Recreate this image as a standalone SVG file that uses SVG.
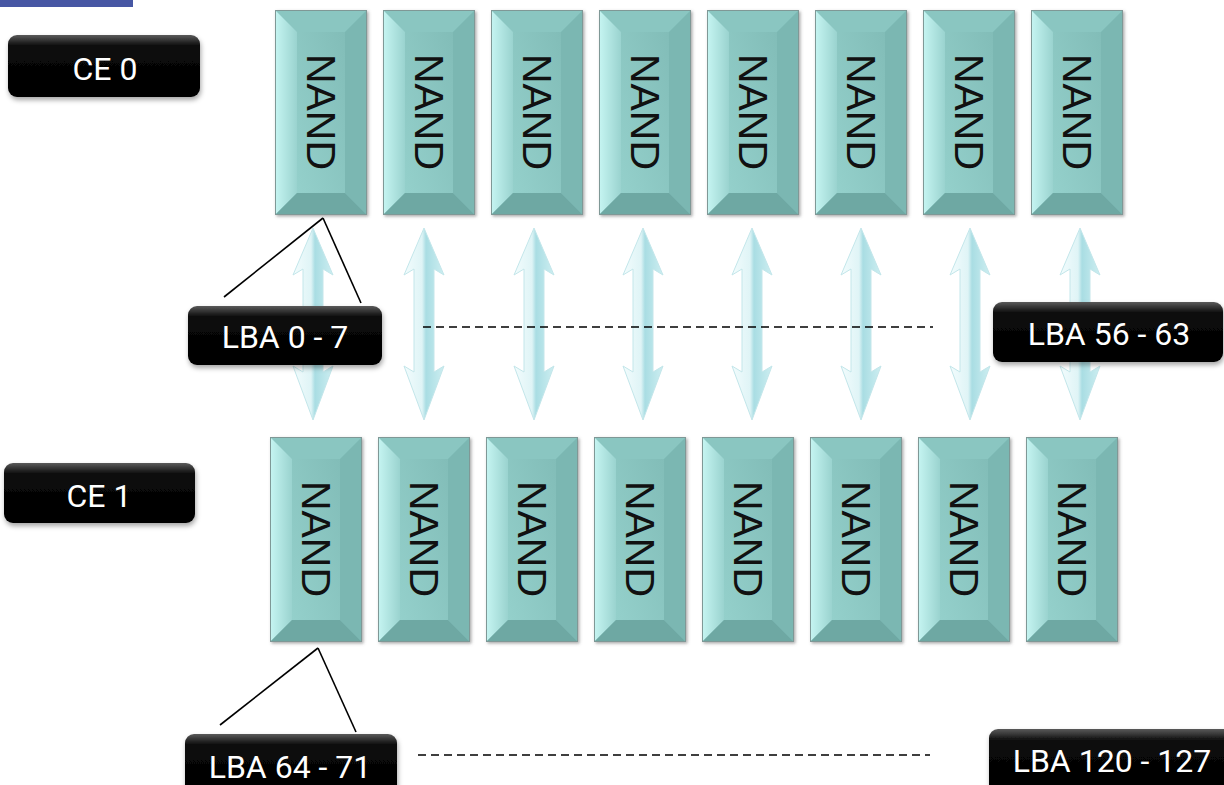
<svg xmlns="http://www.w3.org/2000/svg" xmlns:xlink="http://www.w3.org/1999/xlink" width="1224" height="785" viewBox="0 0 1224 785">
<style>
.lbl{fill:#ffffff;font-family:Roboto,"Liberation Sans",sans-serif;font-size:32px;text-anchor:middle}
.nandtxt{fill:#111;font-family:"Liberation Sans",Arial,sans-serif;font-size:41px;text-anchor:middle;dominant-baseline:central}
.conn{stroke:#000;stroke-width:1.6;fill:none}
.dash{stroke:#000;stroke-width:1.6;fill:none;stroke-dasharray:8 5}
.arrow{fill:url(#arrowGrad);stroke:#c3e6ea;stroke-width:1}
</style>
<defs>
<linearGradient id="leftBevel" x1="0" y1="0" x2="1" y2="0">
<stop offset="0" stop-color="#c6f5f2"/><stop offset="1" stop-color="#9ad3cf"/>
</linearGradient>
<linearGradient id="faceGrad" x1="0" y1="1" x2="1" y2="0">
<stop offset="0" stop-color="#94d0cb"/><stop offset="1" stop-color="#82bdb8"/>
</linearGradient>
<linearGradient id="arrowGrad" x1="0" y1="0" x2="1" y2="0">
<stop offset="0" stop-color="#f2fcfd"/><stop offset="0.45" stop-color="#dff4f6"/><stop offset="0.55" stop-color="#a9dde3"/><stop offset="1" stop-color="#cdeef1"/>
</linearGradient>
<linearGradient id="blackGrad" x1="0" y1="0" x2="0" y2="1">
<stop offset="0" stop-color="#5a5a5a"/><stop offset="0.18" stop-color="#0a0a0a"/><stop offset="1" stop-color="#000"/>
</linearGradient>
<filter id="shadow" x="-10%" y="-10%" width="130%" height="140%">
<feDropShadow dx="1" dy="3" stdDeviation="2.5" flood-color="#000" flood-opacity="0.35"/>
</filter>
<filter id="nshadow" x="-10%" y="-10%" width="130%" height="120%">
<feDropShadow dx="1.5" dy="1.5" stdDeviation="1.5" flood-color="#555" flood-opacity="0.5"/>
</filter>
<g id="nandShape">
<rect x="0" y="0" width="92" height="205" fill="#88c3be" filter="url(#nshadow)"/>
<polygon points="0,0 92,0 70,22 22,22" fill="#8ac6c1"/>
<polygon points="0,0 22,22 22,183 0,205" fill="url(#leftBevel)"/>
<polygon points="92,0 92,205 70,183 70,22" fill="#7bb7b2"/>
<polygon points="0,205 22,183 70,183 92,205" fill="#6ea8a3"/>
<rect x="22" y="22" width="48" height="161" fill="url(#faceGrad)"/>
<rect x="0.5" y="0.5" width="91" height="204" fill="none" stroke="#7f9896" stroke-width="1"/>
</g>
<path id="dblArrow" d="M0,-0 L20,47 L10,41 L10,144 L20,138 L0,192 L-20,138 L-10,144 L-10,41 L-20,47 Z"/>
</defs>

<rect x="0" y="0" width="133" height="7" fill="#4757a4"/>

<g id="arrows">
<use xlink:href="#dblArrow" href="#dblArrow" class="arrow" x="313" y="228"/>
<use xlink:href="#dblArrow" href="#dblArrow" class="arrow" x="424" y="228"/>
<use xlink:href="#dblArrow" href="#dblArrow" class="arrow" x="534" y="228"/>
<use xlink:href="#dblArrow" href="#dblArrow" class="arrow" x="643" y="228"/>
<use xlink:href="#dblArrow" href="#dblArrow" class="arrow" x="752" y="228"/>
<use xlink:href="#dblArrow" href="#dblArrow" class="arrow" x="861" y="228"/>
<use xlink:href="#dblArrow" href="#dblArrow" class="arrow" x="970" y="228"/>
<use xlink:href="#dblArrow" href="#dblArrow" class="arrow" x="1080" y="228"/>
</g>

<g id="nand-top">
<g id="nand-t1" transform="translate(275,10)"><use xlink:href="#nandShape" href="#nandShape"/><text class="nandtxt" transform="translate(46,102) rotate(90)">NAND</text></g>
<g id="nand-t2" transform="translate(383,10)"><use xlink:href="#nandShape" href="#nandShape"/><text class="nandtxt" transform="translate(46,102) rotate(90)">NAND</text></g>
<g id="nand-t3" transform="translate(491,10)"><use xlink:href="#nandShape" href="#nandShape"/><text class="nandtxt" transform="translate(46,102) rotate(90)">NAND</text></g>
<g id="nand-t4" transform="translate(599,10)"><use xlink:href="#nandShape" href="#nandShape"/><text class="nandtxt" transform="translate(46,102) rotate(90)">NAND</text></g>
<g id="nand-t5" transform="translate(707,10)"><use xlink:href="#nandShape" href="#nandShape"/><text class="nandtxt" transform="translate(46,102) rotate(90)">NAND</text></g>
<g id="nand-t6" transform="translate(815,10)"><use xlink:href="#nandShape" href="#nandShape"/><text class="nandtxt" transform="translate(46,102) rotate(90)">NAND</text></g>
<g id="nand-t7" transform="translate(923,10)"><use xlink:href="#nandShape" href="#nandShape"/><text class="nandtxt" transform="translate(46,102) rotate(90)">NAND</text></g>
<g id="nand-t8" transform="translate(1031,10)"><use xlink:href="#nandShape" href="#nandShape"/><text class="nandtxt" transform="translate(46,102) rotate(90)">NAND</text></g>
</g>

<g id="nand-bottom">
<g id="nand-b1" transform="translate(270,437)"><use xlink:href="#nandShape" href="#nandShape"/><text class="nandtxt" transform="translate(46,102) rotate(90)">NAND</text></g>
<g id="nand-b2" transform="translate(378,437)"><use xlink:href="#nandShape" href="#nandShape"/><text class="nandtxt" transform="translate(46,102) rotate(90)">NAND</text></g>
<g id="nand-b3" transform="translate(486,437)"><use xlink:href="#nandShape" href="#nandShape"/><text class="nandtxt" transform="translate(46,102) rotate(90)">NAND</text></g>
<g id="nand-b4" transform="translate(594,437)"><use xlink:href="#nandShape" href="#nandShape"/><text class="nandtxt" transform="translate(46,102) rotate(90)">NAND</text></g>
<g id="nand-b5" transform="translate(702,437)"><use xlink:href="#nandShape" href="#nandShape"/><text class="nandtxt" transform="translate(46,102) rotate(90)">NAND</text></g>
<g id="nand-b6" transform="translate(810,437)"><use xlink:href="#nandShape" href="#nandShape"/><text class="nandtxt" transform="translate(46,102) rotate(90)">NAND</text></g>
<g id="nand-b7" transform="translate(918,437)"><use xlink:href="#nandShape" href="#nandShape"/><text class="nandtxt" transform="translate(46,102) rotate(90)">NAND</text></g>
<g id="nand-b8" transform="translate(1026,437)"><use xlink:href="#nandShape" href="#nandShape"/><text class="nandtxt" transform="translate(46,102) rotate(90)">NAND</text></g>
</g>

<g id="connectors">
<line class="conn" x1="323" y1="218" x2="224" y2="297"/>
<line class="conn" x1="323" y1="218" x2="361" y2="303"/>
<line class="conn" x1="318" y1="648" x2="220" y2="725"/>
<line class="conn" x1="318" y1="648" x2="356" y2="732"/>
<line class="dash" x1="423" y1="327" x2="933" y2="327"/>
<line class="dash" x1="418" y1="755" x2="930" y2="755"/>
</g>

<g id="ce0"><rect x="8" y="35" width="192" height="62" rx="9" fill="url(#blackGrad)" filter="url(#shadow)"/><text class="lbl" x="105" y="80">CE 0</text></g>
<g id="ce1"><rect x="4" y="463" width="191" height="60" rx="9" fill="url(#blackGrad)" filter="url(#shadow)"/><text class="lbl" x="99" y="507">CE 1</text></g>
<g id="lba0"><rect x="188" y="306" width="194" height="59" rx="9" fill="url(#blackGrad)" filter="url(#shadow)"/><text class="lbl" x="285" y="348">LBA 0 - 7</text></g>
<g id="lba56"><rect x="993" y="302" width="230" height="60" rx="9" fill="url(#blackGrad)" filter="url(#shadow)"/><text class="lbl" x="1109" y="345">LBA 56 - 63</text></g>
<g id="lba64"><rect x="185" y="734" width="212" height="60" rx="9" fill="url(#blackGrad)" filter="url(#shadow)"/><text class="lbl" x="290" y="778">LBA 64 - 71</text></g>
<g id="lba120"><rect x="989" y="729" width="245" height="65" rx="9" fill="url(#blackGrad)" filter="url(#shadow)"/><text class="lbl" x="1112" y="772">LBA 120 - 127</text></g>
</svg>
